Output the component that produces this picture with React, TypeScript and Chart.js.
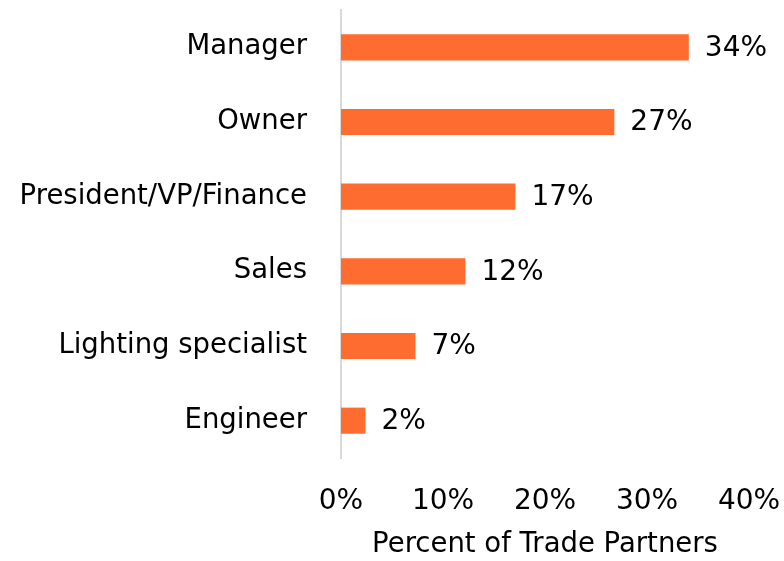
import React, { useEffect, useRef } from "react";
import { Chart, registerables } from "chart.js";

Chart.register(...registerables);

const categories = ["Manager", "Owner", "President/VP/Finance", "Sales", "Lighting specialist", "Engineer"];
const values = [34.1, 26.8, 17.1, 12.2, 7.3, 2.4];
const xTicks = [0, 10, 20, 30, 40];
const axisTitle = "Percent of Trade Partners";

const FONT = "'DejaVu Sans', Verdana, sans-serif";
const FS = 27.5;
const TICK_FS = 28;

const labelPlugin = {
  id: "barLabels",
  afterDatasetsDraw(chart: any) {
    const ctx = chart.ctx;
    const meta = chart.getDatasetMeta(0);
    ctx.save();
    ctx.font = `${TICK_FS}px ${FONT}`;
    ctx.fillStyle = "#000";
    ctx.textAlign = "left";
    ctx.textBaseline = "middle";
    meta.data.forEach((bar: any, i: number) => {
      ctx.fillText(Math.round(values[i]) + "%", bar.x + 16, bar.y + 1);
    });
    ctx.restore();
  },
};

export default function App() {
  const ref = useRef<HTMLCanvasElement>(null);
  useEffect(() => {
    document.body.style.margin = "0";
    const chart = new Chart(ref.current!, {
      type: "bar",
      data: {
        labels: categories,
        datasets: [
          {
            data: values,
            backgroundColor: "#FF6C30",
            categoryPercentage: 1,
            barPercentage: 0.35,
          },
        ],
      },
      options: {
        indexAxis: "y",
        animation: false,
        responsive: false,
        maintainAspectRatio: false,
        layout: { padding: { top: 10, right: 35, left: 10, bottom: 0 } },
        plugins: { legend: { display: false }, tooltip: { enabled: false } },
        scales: {
          x: {
            min: 0,
            max: 40,
            afterBuildTicks: (s: any) => {
              s.ticks = xTicks.map((v) => ({ value: v }));
            },
            afterFit: (s: any) => {
              s.height = 103;
              s.paddingLeft = 0;
              s.paddingRight = 0;
            },
            grid: { display: false },
            border: { display: false },
            ticks: {
              color: "#000",
              font: { family: FONT, size: TICK_FS },
              padding: 19,
              maxRotation: 0,
              callback: (v: any) => v + "%",
            },
            title: {
              display: true,
              text: axisTitle,
              color: "#000",
              font: { family: FONT, size: FS },
              padding: { top: 0, bottom: 0 },
            },
          },
          y: {
            grid: { display: false },
            border: { display: true, color: "#d9d9d9", width: 2 },
            afterFit: (s: any) => {
              s.width = 331;
              s.paddingTop = 0;
              s.paddingBottom = 0;
            },
            ticks: {
              color: "#000",
              font: { family: FONT, size: FS },
              padding: 26,
            },
          },
        },
      },
      plugins: [labelPlugin],
    });
    return () => chart.destroy();
  }, []);
  return (
    <div style={{ width: 784, height: 561 }}>
      <canvas ref={ref} width={784} height={561} />
    </div>
  );
}
